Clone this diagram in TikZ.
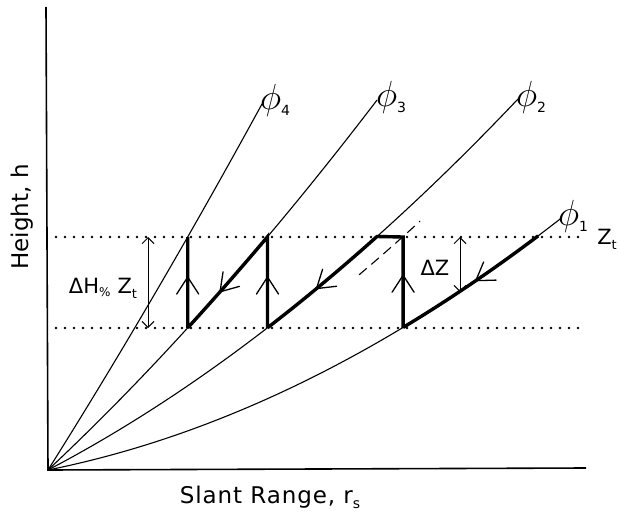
\documentclass[tikz,border=0pt]{standalone}
\usepackage{fontspec}
\setmainfont{DejaVu Sans}
\usetikzlibrary{arrows.meta,decorations.markings}
\newcommand\hgt[2]{470-(#1*#2+0.00056*#2*#2)}
\newcommand\phisym{\scalebox{1.75}{$\phi$}}
\begin{document}
\begin{tikzpicture}[x=1pt,y=-1pt,
  curve/.style={line width=1.1pt},
  axis/.style={line width=1.6pt},
  ray/.style={line width=3.4pt, line join=miter},
  dotline/.style={line width=2.6pt, line cap=round, dash pattern=on 0pt off 9pt},
  dashline/.style={line width=1.1pt, dash pattern=on 10pt off 6pt},
  dim/.style={line width=1pt, {Straight Barb[length=6pt,width=12pt]}-{Straight Barb[length=6pt,width=12pt]}},
  lbl/.style={inner sep=0pt, font=\fontsize{21}{21}\selectfont},
  axlbl/.style={inner sep=0pt, font=\fontsize{23}{23}\selectfont},
  fwdarrow/.style={postaction={decorate, decoration={markings, mark=at position #1 with {\draw[line width=1.3pt, line cap=round, line join=miter] (-17pt,11pt) -- (0pt,0pt) -- (-17pt,-11pt);}}}},
  revarrow/.style={postaction={decorate, decoration={markings, mark=at position #1 with {\draw[line width=1.3pt, line cap=round, line join=miter] (17pt,11pt) -- (0pt,0pt) -- (17pt,-11pt);}}}}
]
\useasboundingbox (0,0) rectangle (618,516);

% axes
\coordinate (O) at (48,470);
\coordinate (ytop) at (46,7);
\coordinate (xend) at (586,468);
\draw[axis] (ytop) -- (O) -- (xend);

% dotted levels
\coordinate (tl) at (56,237);
\coordinate (tr) at (586,237);
\coordinate (bl) at (56,328);
\coordinate (br) at (586,328);
\draw[dotline] (tl) -- (tr);
\draw[dotline] (bl) -- (br);

% elevation-angle curves
\draw[curve] plot[domain=0:514, samples=60] ({48+\x},{\hgt{0.201}{\x}});
\draw[curve] plot[domain=0:470, samples=60] ({48+\x},{\hgt{0.524}{\x}});
\draw[curve] plot[domain=0:329, samples=50] ({48+\x},{\hgt{0.9386}{\x}});
\draw[curve] plot[domain=0:214, samples=40] ({48+\x},{\hgt{1.5896}{\x}});

% dashed shifted copy of phi2
\draw[dashline] plot[domain=285:346, samples=20] ({48+26.1+\x},{\hgt{0.524}{\x}});

% ray path
\coordinate (H) at (187.7,237);
\coordinate (G) at (187.7,328);
\coordinate (F) at (267.5,237);
\coordinate (E) at (267.5,328);
\coordinate (D) at (377.0,237);
\coordinate (C) at (403.1,237);
\coordinate (B) at (403.1,328);
\draw[ray] (H) -- (G)
  -- plot[domain=139.7:219.5, samples=20] ({48+\x},{\hgt{0.9386}{\x}})
  -- (E)
  -- plot[domain=219.5:329, samples=20] ({48+\x},{\hgt{0.524}{\x}})
  -- (C) -- (B)
  -- plot[domain=355.1:490.1, samples=20] ({48+\x},{\hgt{0.201}{\x}});

% arrowheads on the ray path
\path[fwdarrow=0.56] (G) -- (H);
\path[fwdarrow=0.56] (E) -- (F);
\path[fwdarrow=0.58] (B) -- (C);
\path[revarrow=0.40] plot[domain=139.7:219.5, samples=20] ({48+\x},{\hgt{0.9386}{\x}});
\path[revarrow=0.44] plot[domain=219.5:329, samples=20] ({48+\x},{\hgt{0.524}{\x}});
\path[revarrow=0.53] plot[domain=355.1:490.1, samples=20] ({48+\x},{\hgt{0.201}{\x}});

% dimension arrows
\coordinate (dht) at (148,237);
\coordinate (dhb) at (148,328);
\draw[dim] (dht) -- (dhb);
\coordinate (dzt) at (460,237);
\coordinate (dzb) at (460,292.1);
\draw[dim] (dzt) -- (dzb);

% labels
\node[lbl] (dh) at (103,288) {ΔH\raisebox{-3pt}{\fontsize{12}{12}\selectfont\%}\hspace{7pt}Z\raisebox{-5pt}{\fontsize{13}{13}\selectfont t}};
\node[lbl] (dz) at (435,268) {ΔZ};
\node[lbl] (zt) at (607,239) {Z\raisebox{-5pt}{\fontsize{13}{13}\selectfont t}};
\node[lbl] (p4) at (275,100) {\phisym\raisebox{-6pt}{\fontsize{14}{14}\selectfont 4}};
\node[lbl] (p3) at (391,97) {\phisym\raisebox{-6pt}{\fontsize{14}{14}\selectfont 3}};
\node[lbl] (p2) at (531,97) {\phisym\raisebox{-6pt}{\fontsize{14}{14}\selectfont 2}};
\node[lbl] (p1) at (573,216) {\phisym\raisebox{-6pt}{\fontsize{14}{14}\selectfont 1}};
\node[axlbl] (xl) at (270,497) {\addfontfeature{LetterSpace=4}Slant Range, r\raisebox{-5pt}{\fontsize{14}{14}\selectfont s}};
\node[axlbl, rotate=90] (yl) at (22,217) {Height, h};
\end{tikzpicture}
\end{document}
